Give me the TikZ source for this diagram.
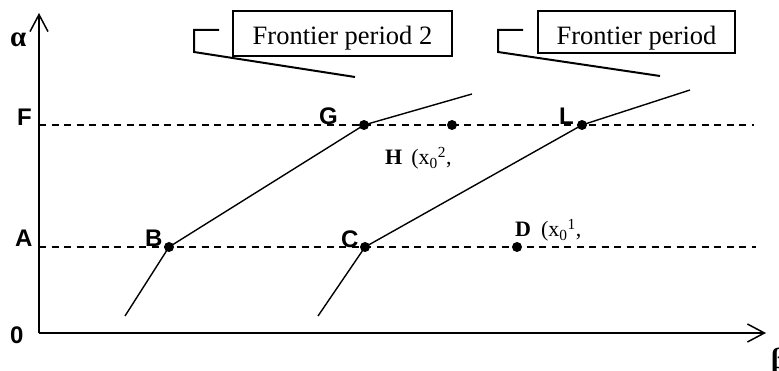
\documentclass[tikz,border=0pt]{standalone}
\usepackage{fontspec}
\setmainfont{Liberation Serif}
\setsansfont{Liberation Sans}
\usetikzlibrary{arrows.meta,positioning,calc}

\begin{document}
\begin{tikzpicture}[
        x=1pt, y=-1pt,
        % Global Styles
        axis/.style={line width=1.5pt, -{Straight Barb[length=17pt,width=18pt,line width=1.5pt]}},
        guide/.style={line width=1.6pt, dash pattern=on 7pt off 5.5pt},
        curve/.style={line width=1.4pt},
        dot/.style={circle, fill=black, inner sep=0pt, minimum size=10pt},
        lab/.style={font=\fontsize{24}{24}\selectfont\sffamily\bfseries, inner sep=0pt, anchor=base west},
        greek/.style={font=\fontsize{29}{29}\selectfont\bfseries, inner sep=0pt, anchor=base west},
        ptlab/.style={font=\fontsize{22}{22}\selectfont, inner sep=0pt, anchor=base west},
        callout/.style={rectangle, draw, line width=2pt, font=\fontsize{26.5}{26.5}\selectfont, text depth=0pt, inner sep=0pt},
        pointer/.style={line width=2pt}
    ]
    \useasboundingbox (0,0) rectangle (779,371);

    % --- Axes ---
    \coordinate (O) at (39,333);
    \coordinate (Ytop) at (39,13);
    \coordinate (Xend) at (766,333);
    \draw [axis] (O) -- (Ytop);
    \draw [axis] (O) -- (Xend);

    % --- Levels F and A ---
    \coordinate (Fy) at (39,125);
    \coordinate (Fend) at (754,125);
    \coordinate (Ay) at (39,247);
    \coordinate (Aend) at (756,247);
    \draw [guide] (Fy) -- (Fend);
    \draw [guide] (Ay) -- (Aend);

    % --- Points ---
    \coordinate (B) at (169,247);
    \coordinate (C) at (365,247);
    \coordinate (D) at (517,247);
    \coordinate (G) at (364,125);
    \coordinate (H) at (452,125);
    \coordinate (L) at (582,125);

    % --- Frontiers ---
    \coordinate (f1s) at (125,316);
    \coordinate (f1e) at (472,94);
    \coordinate (f2s) at (318,316);
    \coordinate (f2e) at (690,90);
    \draw [curve] (f1s) -- (B) -- (G) -- (f1e);
    \draw [curve] (f2s) -- (C) -- (L) -- (f2e);

    \foreach \p in {B,C,D,G,H,L}
        \node [dot] (\p dot) at (\p) {};

    % --- Labels ---
    \node [greek] (alab) at (10,47) {α};
    \node [greek] (blab) at (771,368) {β};
    \node [lab] (Flab) at (17,126) {F};
    \node [lab] (Alab) at (15,247) {A};
    \node [lab] (Olab) at (10,343) {0};
    \node [lab] (Blab) at (145,247) {B};
    \node [lab] (Clab) at (341,248) {C};
    \node [lab] (Glab) at (319,125) {G};
    \node [lab] (Llab) at (559,125) {L};
    \node [ptlab] (Hlab) at (385,165) {\textbf{H}\hspace{9pt}(x\textsubscript{0}\textsuperscript{2},};
    \node [ptlab] (Dlab) at (515,237) {\textbf{D}\hspace{10pt}(x\textsubscript{0}\textsuperscript{1},};

    % --- Callouts ---
    \node [callout, minimum width=219pt, minimum height=45pt, text height=23pt] (box2) at (342.5,33.4) {Frontier period 2};
    \node [callout, minimum width=197pt, minimum height=42pt, text height=26pt] (box1) at (636.5,31.8) {Frontier period};

    \coordinate (k2a) at (219,30);
    \coordinate (k2b) at (194,30);
    \coordinate (k2c) at (194,52);
    \coordinate (tip2) at (355,77);
    \draw [pointer] (k2a) -- (k2b) -- (k2c) -- (tip2);

    \coordinate (k1a) at (523,30);
    \coordinate (k1b) at (498,30);
    \coordinate (k1c) at (498,52);
    \coordinate (tip1) at (660,76);
    \draw [pointer] (k1a) -- (k1b) -- (k1c) -- (tip1);

\end{tikzpicture}
\end{document}
